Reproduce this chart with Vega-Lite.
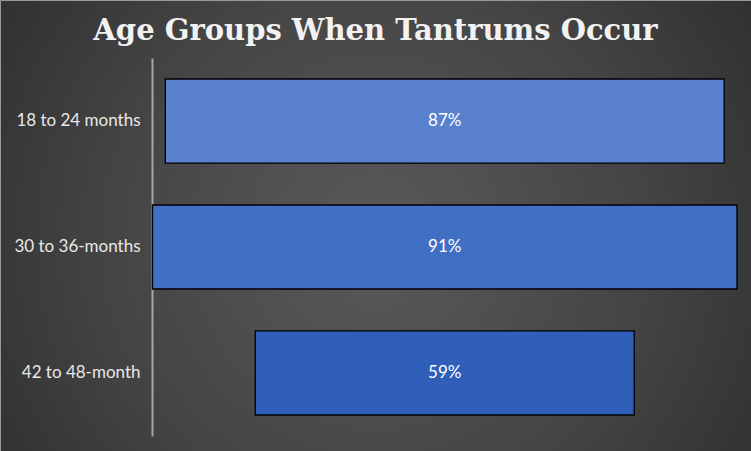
{
  "$schema": "https://vega.github.io/schema/vega-lite/v6.json",
  "description": "Age groups when tantrums occur, centred bars.",
  "width": 751,
  "height": 451,
  "autosize": {"type": "none"},
  "padding": 0,
  "background": "#2a2a2a",
  "title": {
    "text": "Age Groups When Tantrums Occur",
    "orient": "top",
    "anchor": "middle",
    "baseline": "alphabetic",
    "offset": -40,
    "dy": 29,
    "font": "DejaVu Serif",
    "fontSize": 29,
    "fontWeight": "bold",
    "color": "#f2f2f2"
  },
  "data": {
    "values": [
      {"age": "18 to 24 months", "share": 0.87},
      {"age": "30 to 36-months", "share": 0.91},
      {"age": "42 to 48-month", "share": 0.59}
    ]
  },
  "encoding": {
    "y": {
      "field": "age",
      "type": "nominal",
      "sort": null,
      "scale": {"range": [58, 436], "paddingInner": 0.333, "paddingOuter": 0.1667},
      "axis": {
        "title": null,
        "offset": -152,
        "ticks": false,
        "labelPadding": 12,
        "labelFont": "Lato",
        "labelFontSize": 17,
        "labelColor": "#e8e8e8",
        "domainColor": "#a6a6a6",
        "domainWidth": 2,
        "grid": false
      }
    }
  },
  "layer": [
    {
      "mark": {"type": "bar", "stroke": "#000000", "strokeWidth": 1.3},
      "encoding": {
        "x": {
          "field": "share",
          "type": "quantitative",
          "stack": "center",
          "scale": {"domain": [-0.2374, 0.9318], "nice": false, "zero": false},
          "axis": null
        },
        "color": {
          "field": "age",
          "type": "nominal",
          "scale": {
            "domain": ["18 to 24 months", "30 to 36-months", "42 to 48-month"],
            "range": ["#5a81ce", "#416fc4", "#305fba"]
          },
          "legend": null
        }
      }
    },
    {
      "mark": {"type": "text", "color": "#ffffff", "font": "Lato", "fontSize": 17},
      "encoding": {
        "x": {"datum": 0.455, "type": "quantitative"},
        "text": {"field": "share", "type": "quantitative", "format": ".0%"}
      }
    }
  ],
  "config": {
    "view": {
      "stroke": "#9a9a9a",
      "strokeWidth": 1,
      "fill": {
        "gradient": "radial",
        "x1": 0.5, "y1": 0.52, "r1": 0,
        "x2": 0.5, "y2": 0.52, "r2": 0.72,
        "stops": [
          {"offset": 0, "color": "#5a5a5a"},
          {"offset": 0.5, "color": "#444444"},
          {"offset": 1, "color": "#262626"}
        ]
      }
    }
  }
}
